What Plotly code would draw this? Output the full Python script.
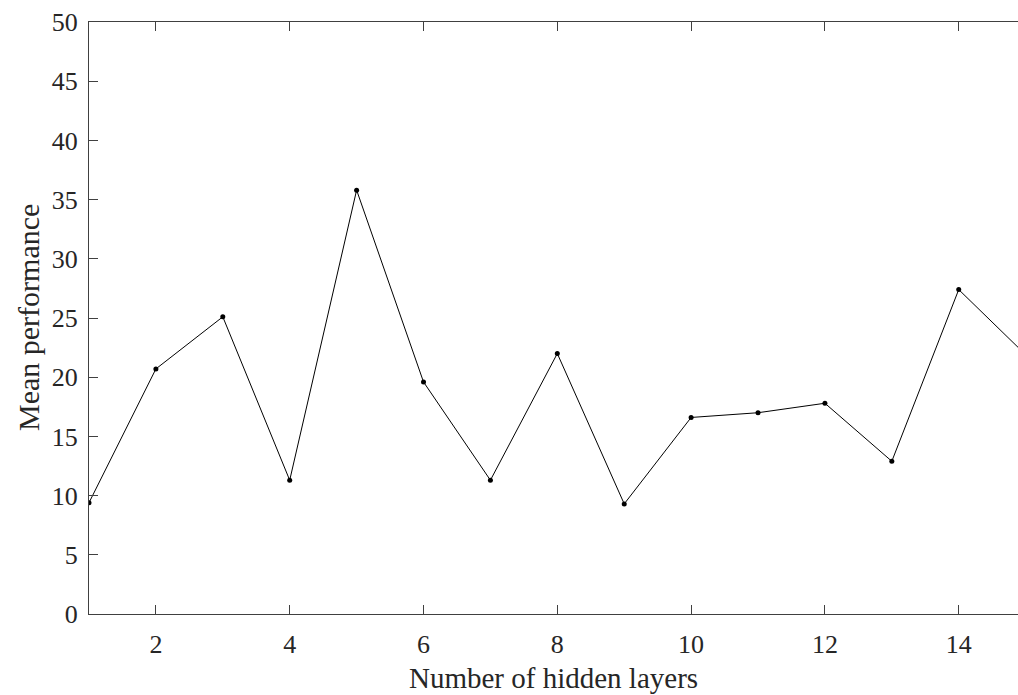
import plotly.graph_objects as go

hidden_layers = [1, 2, 3, 4, 5, 6, 7, 8, 9, 10, 11, 12, 13, 14, 15]
mean_performance = [9.4, 20.7, 25.1, 11.3, 35.8, 19.6, 11.3, 22.0, 9.3, 16.6, 17.0, 17.8, 12.9, 27.4, 21.9]
x_ticks = [2, 4, 6, 8, 10, 12, 14]
y_ticks = [0, 5, 10, 15, 20, 25, 30, 35, 40, 45, 50]
x_title = "Number of hidden layers"
y_title = "Mean performance"

FONT = "Liberation Serif"
TXT = "#262626"

fig = go.Figure()
fig.add_trace(go.Scatter(
    x=hidden_layers, y=mean_performance, mode="lines+markers",
    line=dict(color="black", width=1),
    marker=dict(color="black", size=5),
    cliponaxis=True, showlegend=False,
))

fig.update_layout(
    width=1018, height=695,
    margin=dict(l=89, r=0, t=22, b=81, autoexpand=False),
    paper_bgcolor="white", plot_bgcolor="white",
    font=dict(family=FONT, color=TXT, size=26),
)
fig.update_xaxes(
    range=[1, 14.886], tickvals=x_ticks, ticks="inside", ticklen=9, tickwidth=1,
    tickcolor="#404040", showline=True, linecolor="#404040", linewidth=1.2,
    mirror="ticks", showgrid=False, zeroline=False, ticklabelstandoff=7,
    tickfont=dict(family=FONT, size=26, color=TXT),
)
fig.update_yaxes(
    range=[0, 50], tickvals=y_ticks, ticks="inside", ticklen=9, tickwidth=1,
    tickcolor="#404040", showline=True, linecolor="#404040", linewidth=1.2,
    mirror=False, showgrid=False, zeroline=False, ticklabelstandoff=5,
    tickfont=dict(family=FONT, size=26, color=TXT),
)
fig.add_annotation(
    text=x_title, xref="paper", yref="paper", x=0.5, y=0,
    xanchor="center", yanchor="middle", yshift=-64, showarrow=False,
    font=dict(family=FONT, size=29, color=TXT),
)
fig.add_annotation(
    text=y_title, xref="paper", yref="paper", x=0, y=0.5,
    xanchor="center", yanchor="middle", xshift=-61, textangle=-90, showarrow=False,
    font=dict(family=FONT, size=30, color=TXT),
)

fig.write_html(
    "out.html",
    config={"displayModeBar": False},
    post_script="document.body.style.margin='0';document.body.style.overflow='hidden';",
)
